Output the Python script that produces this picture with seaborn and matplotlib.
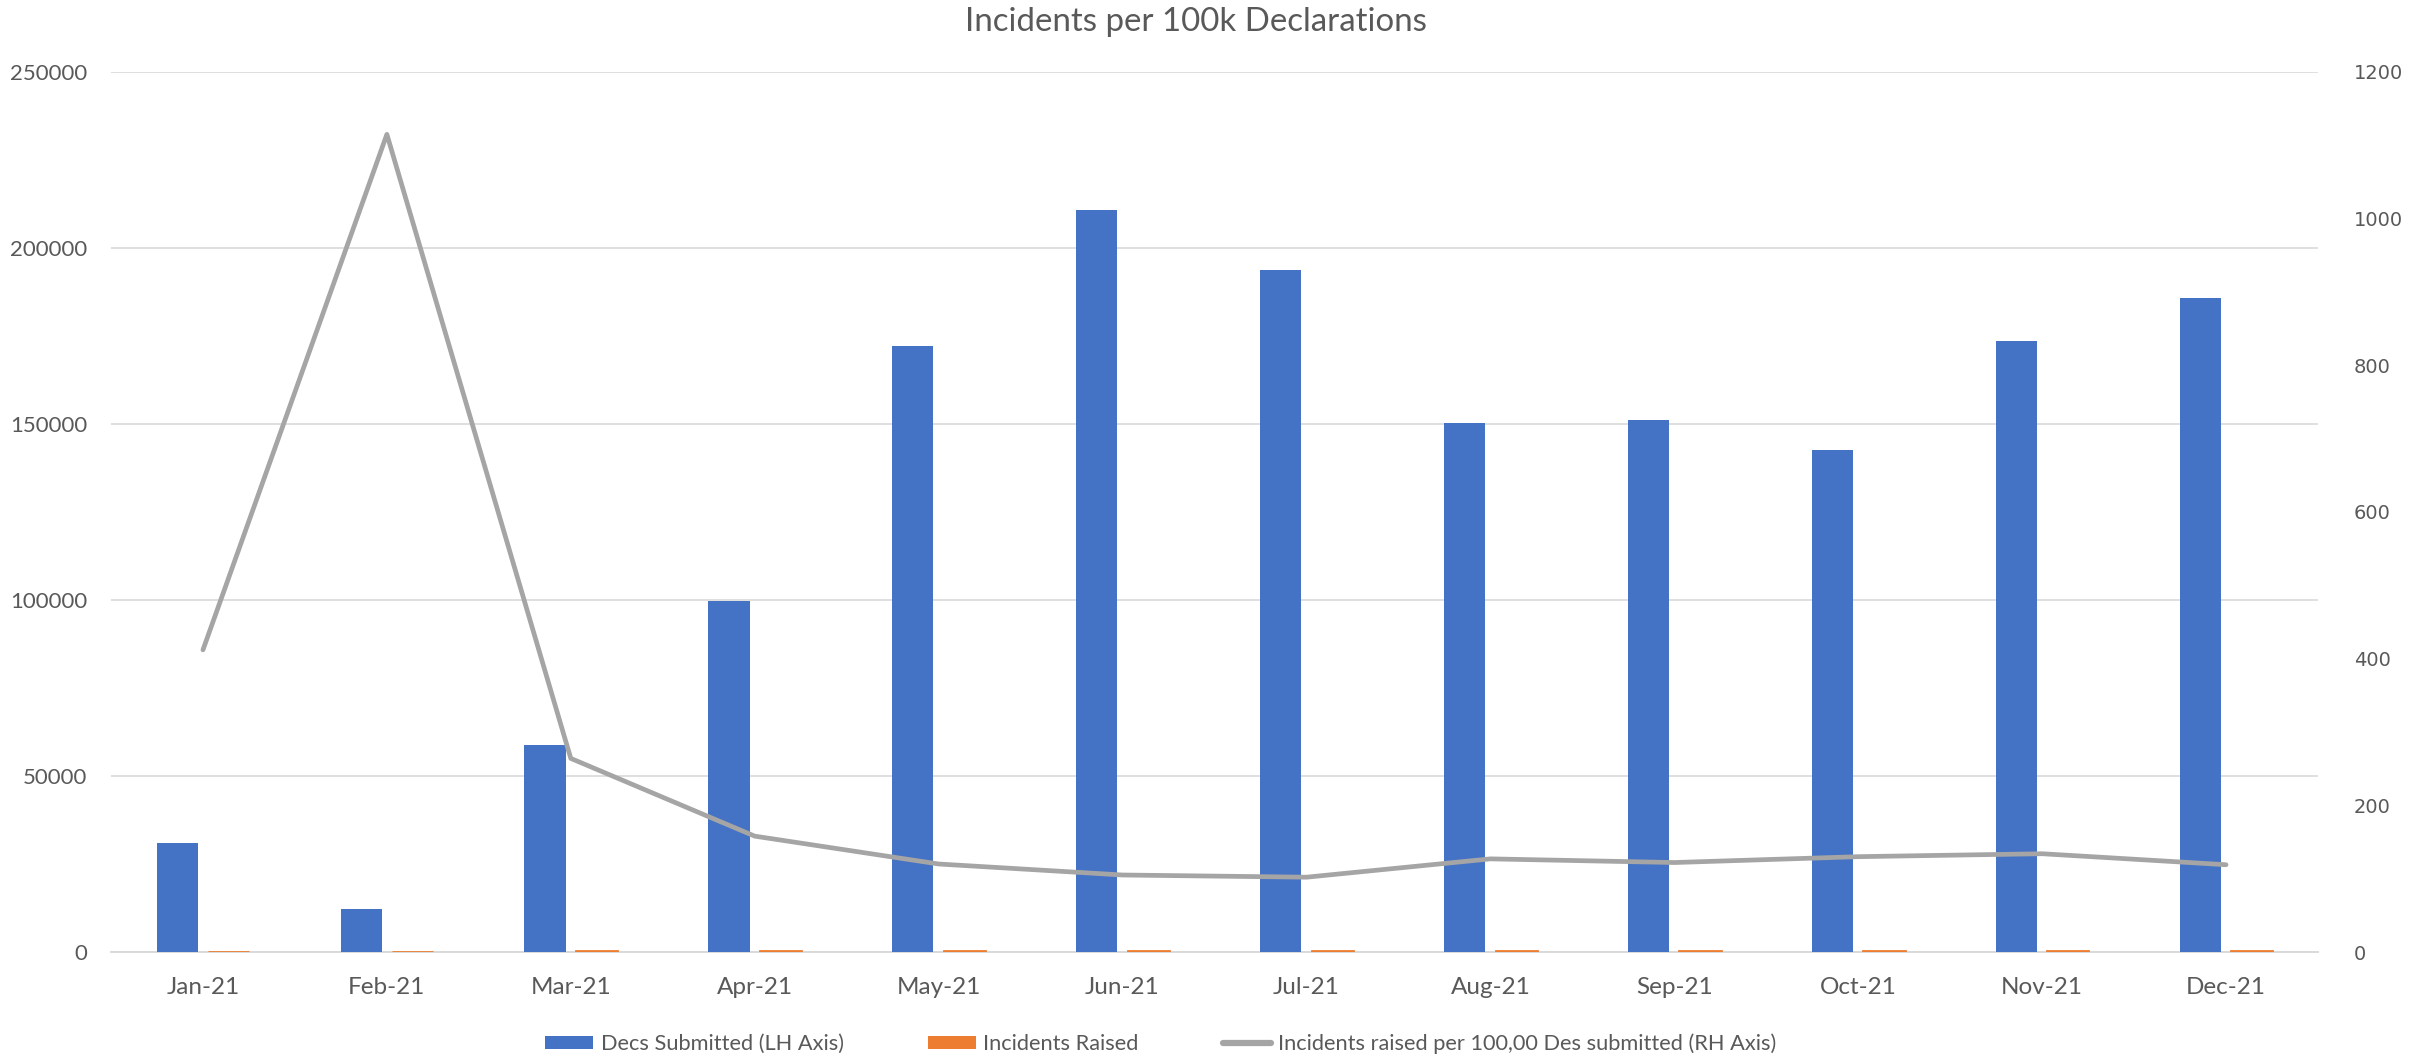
import numpy as np
import pandas as pd
import matplotlib
matplotlib.use("Agg")
import matplotlib.pyplot as plt
from matplotlib.patches import Patch
from matplotlib.lines import Line2D
from matplotlib.ticker import FixedLocator
import seaborn as sns

# ---------------- data ----------------
months = ["Jan-21", "Feb-21", "Mar-21", "Apr-21", "May-21", "Jun-21",
          "Jul-21", "Aug-21", "Sep-21", "Oct-21", "Nov-21", "Dec-21"]
decs_submitted = [30850, 12170, 58800, 99700, 172300, 210700,
                  193700, 150400, 151000, 142500, 173500, 185700]
incidents_raised = [127, 136, 155, 158, 207, 221,
                    198, 191, 184, 185, 233, 221]
incidents_per_100k = [412, 1115, 264, 158, 120, 105,
                      102, 127, 122, 130, 134, 119]

left_ticks = [0, 50000, 100000, 150000, 200000, 250000]
right_ticks = [0, 200, 400, 600, 800, 1000, 1200]

title = "Incidents per 100k Declarations"
series_names = ["Decs Submitted (LH Axis)", "Incidents Raised",
                "Incidents raised per 100,00 Des submitted (RH Axis)"]

BLUE = "#4472C4"
ORANGE = "#ED7D31"
GREY = "#A5A5A5"
TEXT = "#595959"
GRID = "#D9D9D9"

# ---------------- style ----------------
sns.set_style("white")
plt.rcParams["font.family"] = ["Lato", "DejaVu Sans"]
plt.rcParams["text.color"] = TEXT
plt.rcParams["xtick.color"] = TEXT
plt.rcParams["ytick.color"] = TEXT

W, H = 2420, 1055
fig = plt.figure(figsize=(W / 100, H / 100), dpi=100)
left, right, top, bottom = 111, 2318, 72, 952
ax = fig.add_axes([left / W, 1 - bottom / H, (right - left) / W, (bottom - top) / H])

df = pd.DataFrame({
    "Month": months * 2,
    "Value": decs_submitted + incidents_raised,
    "Series": [series_names[0]] * len(months) + [series_names[1]] * len(months),
})

sns.barplot(data=df, x="Month", y="Value", hue="Series",
            palette=[BLUE, ORANGE], width=0.56, gap=0.2, saturation=1,
            errorbar=None, legend=False, ax=ax, linewidth=0)

# give the tiny orange bars a visible outline like the original
for bar in ax.containers[1]:
    bar.set_edgecolor(ORANGE)
    bar.set_linewidth(2.0)
    bar.set_zorder(3)

ax.set_xlim(-0.5, len(months) - 0.5)
ax.set_ylim(left_ticks[0], left_ticks[-1])
ax.set_yticks(left_ticks)
ax.set_yticklabels([str(t) for t in left_ticks])
ax.set_xlabel("")
ax.set_ylabel("")
ax.set_axisbelow(True)
ax.yaxis.grid(True, color=GRID, linewidth=1.2)
ax.xaxis.grid(False)
for s in ["top", "left", "right"]:
    ax.spines[s].set_visible(False)
ax.spines["bottom"].set_color(GRID)
ax.spines["bottom"].set_linewidth(1.4)
ax.spines["bottom"].set_zorder(0.7)

ax.tick_params(axis="x", which="major", length=0, pad=18, labelsize=17.5)
ax.xaxis.set_minor_locator(FixedLocator(np.arange(-0.5, len(months), 1.0)))
ax.tick_params(axis="x", which="minor", length=5, width=1.2, color=GRID)
ax.tick_params(axis="y", length=0, pad=17, labelsize=16)

# ---------------- right axis line ----------------
ax2 = ax.twinx()
sns.lineplot(x=np.arange(len(months)), y=incidents_per_100k, ax=ax2,
             color=GREY, linewidth=3.4, legend=False, sort=False)
for ln in ax2.lines:
    ln.set_solid_capstyle("round")
    ln.set_solid_joinstyle("round")
ax2.set_ylim(right_ticks[0], right_ticks[-1])
ax2.set_yticks(right_ticks)
ax2.set_yticklabels([str(t) for t in right_ticks], family=["DejaVu Sans"])
ax2.tick_params(axis="y", length=0, pad=26, labelsize=14)
ax2.set_ylabel("")
for s in ["top", "left", "right", "bottom"]:
    ax2.spines[s].set_visible(False)
ax2.grid(False)
ax.set_xlim(-0.5, len(months) - 0.5)

# ---------------- title & legend ----------------
fig.text(1196 / W, 1 - 22 / H, title, ha="center", va="center",
         fontsize=23.8, color=TEXT)

handles = [
    Patch(facecolor=BLUE, edgecolor="none"),
    Patch(facecolor=ORANGE, edgecolor="none"),
    Line2D([0], [0], color=GREY, linewidth=4.5, solid_capstyle="round"),
]
fig.legend(handles, series_names, loc="center", ncol=3,
           bbox_to_anchor=(1161 / W, 11 / H), frameon=False,
           fontsize=15.7, handlelength=2.2, handleheight=0.55,
           handletextpad=0.35, columnspacing=3.85, labelcolor=TEXT)

fig.savefig("out.png", dpi=100, facecolor="white")
